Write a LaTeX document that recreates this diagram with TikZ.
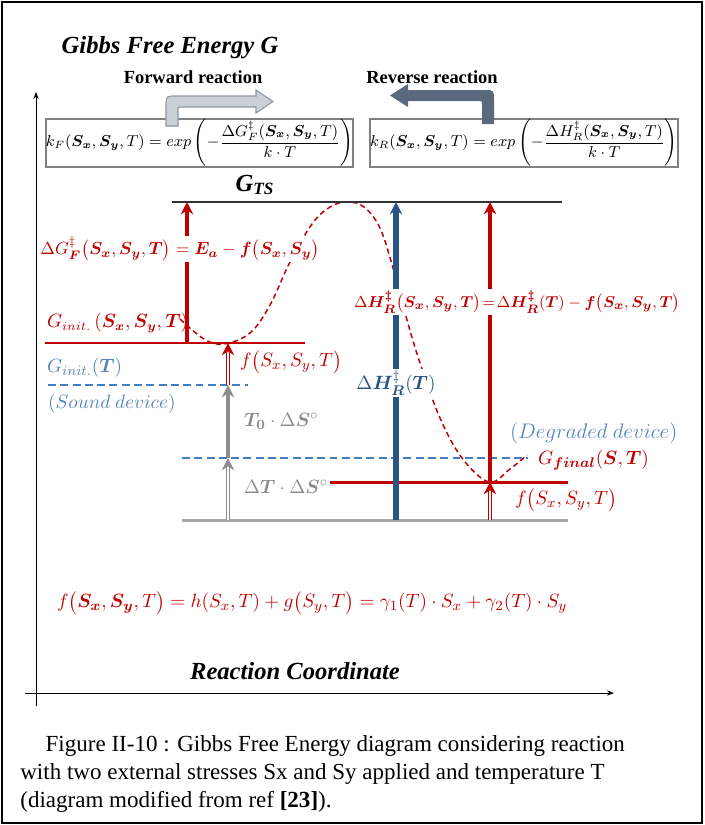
\documentclass[tikz,border=0pt]{standalone}
\usepackage{amsmath}
\usepackage{bm}
\usepackage{fontspec}
\setmainfont{Liberation Serif}
\usetikzlibrary{arrows.meta}

\definecolor{dkred}{RGB}{192,0,0}
\definecolor{dkblue}{RGB}{40,84,134}
\definecolor{dashblue}{RGB}{66,125,190}
\definecolor{ltblue}{RGB}{84,130,185}
\definecolor{arrgray}{RGB}{140,140,140}
\definecolor{basegray}{RGB}{166,166,166}
\definecolor{fwdfill}{RGB}{203,208,214}
\definecolor{fwdline}{RGB}{140,150,162}
\definecolor{revfill}{RGB}{90,105,125}

\newcommand{\bSx}{\bm{S_x}}
\newcommand{\bSy}{\bm{S_y}}

\begin{document}
\begin{tikzpicture}[x=0.02cm, y=-0.02cm,
    lvl/.style={line width=1.7pt},
    dashlvl/.style={dashblue, line width=1.2pt, dash pattern=on 4.5pt off 2.5pt},
    uparr/.style={line width=2.8pt, -{Stealth[length=7pt,width=7pt]}},
    dblarr/.style={double, double distance=1.4pt, line width=0.6pt, -{Stealth[length=7pt,width=7pt]}},
    lbl/.style={inner sep=1pt, font=\fontsize{11}{13}\selectfont},
    gap/.style={lbl, fill=white},
    ratebox/.style={draw=gray, line width=0.8pt, minimum width=6.1cm, minimum height=0.96cm, inner sep=0pt, font=\fontsize{8.8}{10}\selectfont},
    head/.style={font=\fontsize{10.5}{12}\selectfont\bfseries}
  ]
  \useasboundingbox (0,0) rectangle (704,825);
  \draw[line width=1.4pt] (2,2) rectangle (702,823);

  % axes
  \draw[line width=0.5pt, -{Stealth[length=4pt,width=3pt]}] (36,706) -- (36,92);
  \draw[line width=0.5pt, -{Stealth[length=4pt,width=3pt]}] (25,693) -- (614,693);
  \node[font=\fontsize{14}{16}\selectfont\bfseries\itshape] (title) at (170,48) {Gibbs Free Energy G};
  \node[font=\fontsize{14}{16}\selectfont\bfseries\itshape] (xlab) at (295,671) {Reaction Coordinate};

  % rate constants
  \node[head] (fwd) at (193,77) {Forward reaction};
  \node[head] (rev) at (432,77) {Reverse reaction};
  \node[ratebox] (kF) at (199.5,143) {$k_F(\bSx,\bSy,T) = exp\left(-\dfrac{\Delta G_F^{\ddagger}(\bSx,\bSy,T)}{k\cdot T}\right)$};
  \node[ratebox] (kR) at (524,143) {$k_R(\bSx,\bSy,T) = exp\left(-\dfrac{\Delta H_R^{\ddagger}(\bSx,\bSy,T)}{k\cdot T}\right)$};
  \filldraw[fill=fwdfill, draw=fwdline, line width=0.6pt] (166,126) -- (166,106) .. controls (166,96) .. (176,96)
    -- (256,96) -- (256,90) -- (273,101.5) -- (256,113) -- (256,107) -- (181,107)
    .. controls (178,107) .. (178,110) -- (178,126) -- cycle;
  \fill[revfill] (494,124) -- (494,100) .. controls (494,90) .. (484,90) -- (408,90) -- (408,84)
    -- (390,95.5) -- (408,107) -- (408,101) -- (479,101) .. controls (482,101) .. (482,104)
    -- (482,124) -- cycle;

  % energy levels
  \node[font=\fontsize{14}{16}\selectfont\bfseries\itshape] (GTS) at (255,185) {G$_{\text{TS}}$};
  \draw[dkred, line width=0.85pt, dash pattern=on 3pt off 2pt] plot[smooth, tension=0.6] coordinates {
    (180,319) (204,339) (224,344) (250,333) (270,305) (290,262) (312,224) (330,207) (347,202)
    (364,207) (380,228) (393,268) (405,313) (420,363) (440,418) (462,458) (489,482) (510,469) (527,455)};
  \draw[black!80, line width=0.9pt] (172,202) -- (562,202);
  \draw[lvl, dkred] (45,343) -- (305,343);
  \draw[dashlvl] (48,385) -- (248,385);
  \draw[dashlvl] (182,458) -- (528,458);
  \draw[lvl, dkred] (330,482) -- (568,482);
  \draw[lvl, basegray] (182,520) -- (568,520);

  % barriers and shifts
  \draw[uparr, dkred] (187,343) -- (187,202);
  \draw[uparr, dkblue, line width=3.4pt] (396,520) -- (396,202);
  \draw[uparr, dkred] (490,482) -- (490,202);
  \draw[dblarr, arrgray] (228,520) -- (228,458);
  \draw[uparr, arrgray] (228,458) -- (228,385);
  \draw[dblarr, dkred] (228,385) -- (228,343);
  \draw[dblarr, dkred] (490,520) -- (490,482);

  % labels
  \node[gap, text=dkred, font=\fontsize{9.6}{12}\selectfont] (dGF) at (180,249) {$\Delta G_{\bm F}^{\ddagger}\bigl(\bSx,\bSy,\bm T\bigr) = \bm{E_a} - \bm f\bigl(\bSx,\bSy\bigr)$};
  \node[lbl, text=dkred, anchor=west, font=\fontsize{10.6}{13}\selectfont] (Ginit) at (45,323) {$G_{init.}\,(\bSx,\bSy,\bm T)$};
  \node[lbl, text=ltblue, anchor=west] (G0) at (45,368) {$G_{init.}(\bm T)$};
  \node[lbl, text=ltblue, anchor=west] (sound) at (46,404) {$(Sound\ device)$};
  \node[lbl, text=dkred, anchor=west] (fS1) at (238,362) {$f\bigl(S_x,S_y,T\bigr)$};
  \node[gap, text=dkblue] (dHT) at (396,383) {$\Delta\bm H_{\bm R}^{\ddagger}(\bm T)$};
  \node[lbl, text=arrgray, anchor=west] (T0S) at (242,421) {$\bm{T_0}\cdot\Delta\bm S^{\circ}$};
  \node[lbl, text=arrgray, anchor=west] (dTS) at (242,487) {$\Delta\bm T\cdot\Delta\bm S^{\circ}$};
  \node[lbl, text=ltblue, anchor=west, font=\fontsize{11.6}{13}\selectfont] (degr) at (508,433) {$(Degraded\ device)$};
  \node[lbl, text=dkred, anchor=west] (Gfin) at (536,460) {$G_{\bm{final}}(\bm S,\bm T)$};
  \node[lbl, text=dkred, anchor=west] (fS2) at (513,500) {$f\bigl(S_x,S_y,T\bigr)$};
  \node[gap, text=dkred, font=\fontsize{9.3}{12}\selectfont] (dHR) at (517,302)
    {$\Delta\bm{H_R^{\ddagger}}\bigl(\bSx,\bSy,\bm T\bigr)\!=\!\Delta\bm{H_R^{\ddagger}}(\bm T) - \bm f\bigl(\bSx,\bSy,\bm T\bigr)$};
  \node[lbl, text=dkred, anchor=west, font=\fontsize{11.3}{14}\selectfont] (feq) at (55,603)
    {$f\bigl(\bSx,\bSy,T\bigr) = h(S_x,T) + g\bigl(S_y,T\bigr) = \gamma_1(T)\cdot S_x + \gamma_2(T)\cdot S_y$};

  % caption
  \node[anchor=north west, align=left, inner sep=0pt, font=\fontsize{13.1}{15.9}\selectfont] (cap) at (20,735)
    {\hspace*{1.1em}Figure II-10 : Gibbs Free Energy diagram considering reaction\\
     with two external stresses Sx and Sy applied and temperature T\\
     (diagram modified from ref \textbf{[23]}).};
\end{tikzpicture}
\end{document}
